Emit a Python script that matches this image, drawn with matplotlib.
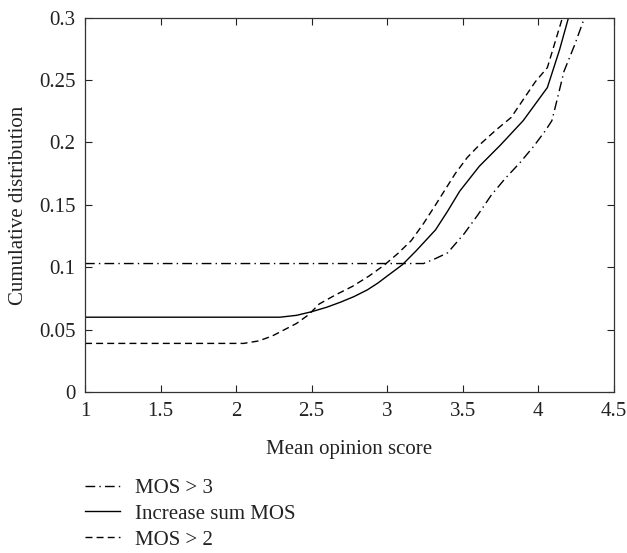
import matplotlib
matplotlib.use("Agg")
import matplotlib.pyplot as plt

## Curve values
mos3_x = [1.0, 3.24, 3.32, 3.40, 3.51, 3.60, 3.69, 3.78, 3.88, 3.97, 4.05, 4.09, 4.13, 4.17, 4.24, 4.30, 4.33]
mos3_y = [0.103, 0.103, 0.107, 0.1116, 0.127, 0.142, 0.158, 0.171, 0.184, 0.197, 0.210, 0.2175, 0.237, 0.257, 0.278, 0.298, 0.31]

sum_x = [1.0, 2.29, 2.40, 2.50, 2.60, 2.69, 2.78, 2.87, 2.94, 3.00, 3.10, 3.19, 3.32, 3.40, 3.48, 3.61, 3.75, 3.90, 4.06, 4.14, 4.20, 4.23]
sum_y = [0.060, 0.060, 0.0615, 0.0644, 0.068, 0.072, 0.0765, 0.082, 0.0875, 0.093, 0.102, 0.113, 0.130, 0.145, 0.161, 0.181, 0.198, 0.2175, 0.244, 0.274, 0.300, 0.31]

mos2_x = [1.0, 2.05, 2.15, 2.24, 2.32, 2.40, 2.48, 2.55, 2.66, 2.77, 2.88, 2.98, 3.07, 3.16, 3.24, 3.32, 3.45, 3.53, 3.61, 3.72, 3.82, 3.98, 4.06, 4.11, 4.16, 4.19]
mos2_y = [0.039, 0.039, 0.041, 0.045, 0.050, 0.055, 0.062, 0.0706, 0.078, 0.0847, 0.093, 0.1017, 0.111, 0.1215, 0.135, 0.150, 0.175, 0.188, 0.198, 0.210, 0.220, 0.2486, 0.260, 0.280, 0.300, 0.31]

x_ticks = [1, 1.5, 2, 2.5, 3, 3.5, 4, 4.5]
x_labels = ["1", "1.5", "2", "2.5", "3", "3.5", "4", "4.5"]
y_ticks = [0, 0.05, 0.1, 0.15, 0.2, 0.25, 0.3]
y_labels = ["0", "0.05", "0.1", "0.15", "0.2", "0.25", "0.3"]

plt.rcParams["font.family"] = ["Liberation Serif", "DejaVu Serif"]
plt.rcParams["font.size"] = 15

fig = plt.figure(figsize=(6.27, 5.53), dpi=100)
ax = fig.add_axes([0.1356, 0.291, 0.8434, 0.677])

## Draw the three curves
ax.plot(mos3_x, mos3_y, color="black", linestyle=(0, (7, 3, 1, 3)), linewidth=1.0, label="MOS > 3")
ax.plot(sum_x, sum_y, color="black", linestyle="-", linewidth=1.0, label="Increase sum MOS")
ax.plot(mos2_x, mos2_y, color="black", linestyle=(0, (5, 3)), linewidth=1.0, label="MOS > 2")

ax.set_xlim(1, 4.5)
ax.set_ylim(0, 0.3)
ax.set_xticks(x_ticks)
ax.set_xticklabels(x_labels)
ax.set_yticks(y_ticks)
ax.set_yticklabels(y_labels)
ax.tick_params(direction="in", top=True, right=True, length=5, width=0.8,
               colors="#222222", labelsize=15, pad=7)
for s in ax.spines.values():
    s.set_linewidth(0.9)
    s.set_color("#333333")

ax.set_xlabel("Mean opinion score", fontsize=15, labelpad=14, color="#222222")
ax.set_ylabel("Cumulative distribution", fontsize=15, labelpad=8, color="#222222")

## Legend below the axes, no frame
fig.legend(loc="upper left", bbox_to_anchor=(0.1356, 0.135), frameon=False,
           handlelength=1.7, handletextpad=0.72, labelspacing=0.3, fontsize=15,
           borderaxespad=0, borderpad=0, labelcolor="#222222")

plt.savefig("out.png", dpi=100)
